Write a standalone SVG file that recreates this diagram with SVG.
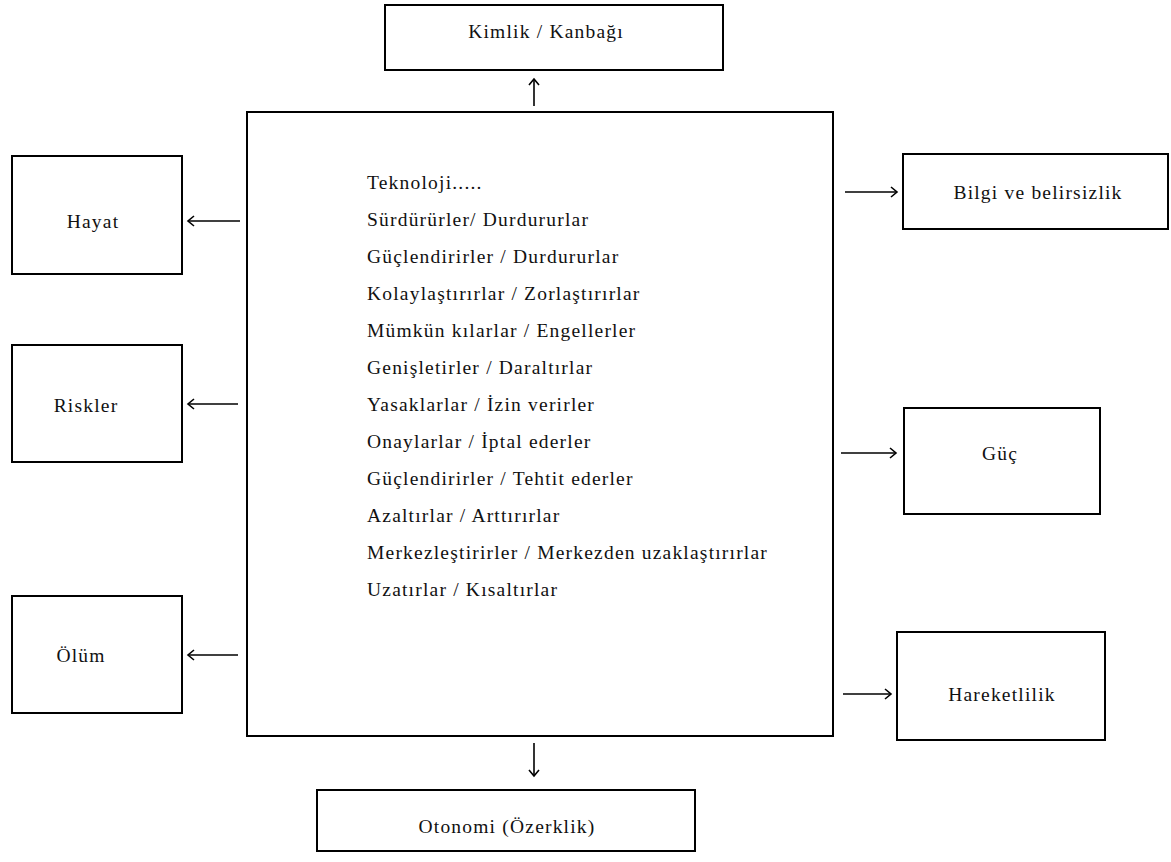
<svg xmlns="http://www.w3.org/2000/svg" width="1171" height="862" viewBox="0 0 1171 862">
  <defs>
    <style>
      .box { fill: #ffffff; stroke: #000000; stroke-width: 2; }
      .lbl { font-family: "Liberation Serif", "DejaVu Serif", serif; font-size: 19.5px; letter-spacing: 1.2px; fill: #111111; }
      .mid { text-anchor: middle; dominant-baseline: central; }
      .conn { stroke: #000000; stroke-width: 1.6; fill: none; marker-end: url(#head); }
    </style>
    <marker id="head" markerUnits="userSpaceOnUse" markerWidth="12" markerHeight="14" refX="9" refY="7" orient="auto">
      <path d="M3,2 L9,7 L3,12" fill="none" stroke="#000000" stroke-width="1.6"/>
    </marker>
  </defs>
  <rect width="1171" height="862" fill="#ffffff"/>

  <!-- central box with the list of effects -->
  <g id="teknoloji">
    <rect class="box" x="247" y="112" width="586" height="624"/>
    <text class="lbl" x="367" y="189">Teknoloji.....</text>
    <text class="lbl" x="367" y="226">Sürdürürler/ Durdururlar</text>
    <text class="lbl" x="367" y="263">Güçlendirirler / Durdururlar</text>
    <text class="lbl" x="367" y="300">Kolaylaştırırlar / Zorlaştırırlar</text>
    <text class="lbl" x="367" y="337">Mümkün kılarlar / Engellerler</text>
    <text class="lbl" x="367" y="374">Genişletirler / Daraltırlar</text>
    <text class="lbl" x="367" y="411">Yasaklarlar / İzin verirler</text>
    <text class="lbl" x="367" y="448">Onaylarlar / İptal ederler</text>
    <text class="lbl" x="367" y="485">Güçlendirirler / Tehtit ederler</text>
    <text class="lbl" x="367" y="522">Azaltırlar / Arttırırlar</text>
    <text class="lbl" x="367" y="559">Merkezleştirirler / Merkezden uzaklaştırırlar</text>
    <text class="lbl" x="367" y="596">Uzatırlar / Kısaltırlar</text>
  </g>

  <g id="kimlik">
    <rect class="box" x="385" y="5" width="338" height="65"/>
    <text class="lbl mid" x="546" y="31">Kimlik / Kanbağı</text>
  </g>

  <g id="hayat">
    <rect class="box" x="12" y="156" width="170" height="118"/>
    <text class="lbl mid" x="93" y="221">Hayat</text>
  </g>

  <g id="riskler">
    <rect class="box" x="12" y="345" width="170" height="117"/>
    <text class="lbl mid" x="86" y="405">Riskler</text>
  </g>

  <g id="olum">
    <rect class="box" x="12" y="596" width="170" height="117"/>
    <text class="lbl mid" x="81" y="655">Ölüm</text>
  </g>

  <g id="bilgi">
    <rect class="box" x="903" y="154" width="265" height="75"/>
    <text class="lbl mid" x="1038" y="192">Bilgi ve belirsizlik</text>
  </g>

  <g id="guc">
    <rect class="box" x="904" y="408" width="196" height="106"/>
    <text class="lbl mid" x="1000" y="453">Güç</text>
  </g>

  <g id="hareketlilik">
    <rect class="box" x="897" y="632" width="208" height="108"/>
    <text class="lbl mid" x="1002" y="694">Hareketlilik</text>
  </g>

  <g id="otonomi">
    <rect class="box" x="317" y="790" width="378" height="61"/>
    <text class="lbl mid" x="507" y="826">Otonomi (Özerklik)</text>
  </g>

  <!-- arrows leaving the central box -->
  <g id="connectors">
    <line class="conn" x1="534" y1="106" x2="534" y2="79"/>
    <line class="conn" x1="240" y1="221" x2="188" y2="221"/>
    <line class="conn" x1="238" y1="404" x2="188" y2="404"/>
    <line class="conn" x1="238" y1="655" x2="188" y2="655"/>
    <line class="conn" x1="845" y1="192" x2="897" y2="192"/>
    <line class="conn" x1="841" y1="453" x2="896" y2="453"/>
    <line class="conn" x1="843" y1="694" x2="891" y2="694"/>
    <line class="conn" x1="534" y1="743" x2="534" y2="776"/>
  </g>
</svg>
